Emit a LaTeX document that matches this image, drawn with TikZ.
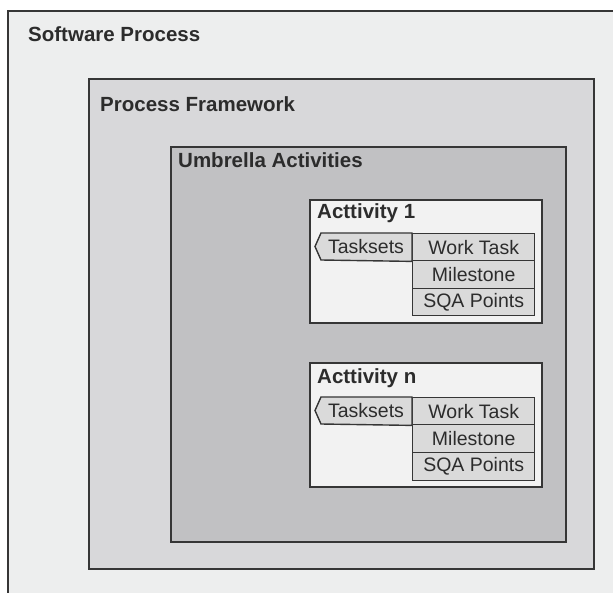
\documentclass[tikz,border=0pt]{standalone}
\usepackage{fontspec}
\setmainfont{Liberation Sans}
\definecolor{lineC}{HTML}{363636}
\definecolor{textC}{HTML}{2C2C2C}
\definecolor{outerC}{HTML}{EDEEEE}
\definecolor{pfC}{HTML}{D8D8DA}
\definecolor{uaC}{HTML}{C1C1C3}
\definecolor{actC}{HTML}{F2F2F2}
\definecolor{cellC}{HTML}{DADADA}
\tikzset{
  frame/.style={draw=lineC, line width=1.8pt, rectangle, anchor=north west, inner sep=0pt},
  title/.style={font=\fontsize{20.5}{23}\selectfont\bfseries, anchor=base west, inner sep=0pt, text=textC},
  cell/.style={draw=lineC, line width=1.4pt, fill=cellC, font=\fontsize{19.5}{22}\selectfont,
    inner sep=0pt, anchor=north west, minimum width=122pt, text=textC},
  tabtext/.style={font=\fontsize{19.5}{22}\selectfont, inner sep=0pt, text=textC}
}
\begin{document}
\begin{tikzpicture}[x=1pt,y=-1pt]
\useasboundingbox (0,0) rectangle (613,593);
\clip (0,0) rectangle (613,593);
\fill[white] (0,0) rectangle (613,593);
% frames
\node[frame, fill=outerC, minimum width=620pt, minimum height=600pt] (sp) at (7,10) {};
\node[frame, fill=pfC, minimum width=505pt, minimum height=490pt] (pf) at (88,78) {};
\node[frame, fill=uaC, minimum width=395pt, minimum height=395pt] (ua) at (170,146) {};
\node[frame, fill=actC, line width=1.6pt, minimum width=232pt, minimum height=123pt] (a1) at (309,199) {};
\node[frame, fill=actC, line width=1.6pt, minimum width=232pt, minimum height=124pt] (an) at (309,362) {};
% titles
\node[title] (tsp) at (28,42) {Software Process};
\node[title] (tpf) at (100,112) {Process Framework};
\node[title] (tua) at (178,168) {Umbrella Activities};
\node[title] (ta1) at (317,219) {Acttivity 1};
\node[title] (tan) at (317,384) {Acttivity n};
% activity 1 cells
\node[cell, minimum height=27pt] (wt1) at (412,233) {Work Task};
\node[cell, minimum height=28pt] (ms1) at (412,260) {Milestone};
\node[cell, minimum height=27pt] (sq1) at (412,288) {SQA Points};
\draw[draw=lineC, line width=1.4pt, fill=cellC] (wt1.north west) -- ++(-91,0) -- ++(-6,13.5) -- ++(6,13.5) -- (wt1.south west) -- cycle;
\node[tabtext] (ts1) at (366,246.5) {Tasksets};
% activity n cells
\node[cell, minimum height=27pt] (wtn) at (412,397) {Work Task};
\node[cell, minimum height=28pt] (msn) at (412,424) {Milestone};
\node[cell, minimum height=28pt] (sqn) at (412,452) {SQA Points};
\draw[draw=lineC, line width=1.4pt, fill=cellC] (wtn.north west) -- ++(-91,0) -- ++(-6,13.5) -- ++(6,13.5) -- (wtn.south west) -- cycle;
\node[tabtext] (tsn) at (366,410.5) {Tasksets};
\end{tikzpicture}
\end{document}
